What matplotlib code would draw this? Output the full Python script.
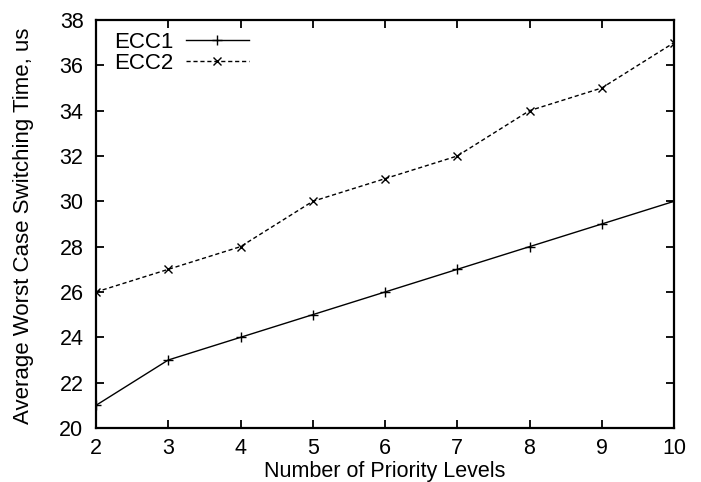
import matplotlib
matplotlib.use("Agg")
import matplotlib.pyplot as plt

# priority levels and switching times (us)
levels = [2, 3, 4, 5, 6, 7, 8, 9, 10]
ecc1 = [21, 23, 24, 25, 26, 27, 28, 29, 30]
ecc2 = [26, 27, 28, 30, 31, 32, 34, 35, 37]

plt.rcParams['font.family'] = ['Liberation Sans', 'DejaVu Sans']
plt.rcParams['font.size'] = 15.5

fig = plt.figure(figsize=(7.01, 4.82), dpi=100)
# plot box in pixels: x 96..674, y 20..428
ax = fig.add_axes([96 / 701, 1 - 428 / 482, 578 / 701, 408 / 482])

ax.plot(levels, ecc1, color='black', linewidth=1, marker='+', markersize=7,
        markeredgewidth=1, label='ECC1')
ax.plot(levels, ecc2, color='black', linewidth=1, linestyle=(0, (3, 2)),
        marker='x', markersize=6, markeredgewidth=1, label='ECC2')

ax.set_xlim(2, 10)
ax.set_ylim(20, 38)
ax.set_xticks(levels)
ax.set_yticks(range(20, 39, 2))
ax.tick_params(direction='in', top=True, right=True, length=6, width=1.3,
               labelsize=15.5)
ax.tick_params(axis='x', pad=7)
ax.tick_params(axis='y', pad=9)
for s in ax.spines.values():
    s.set_linewidth(1.6)

ax.set_xlabel('Number of Priority Levels', fontsize=15.5, labelpad=2)
ax.set_ylabel('Average Worst Case Switching Time, us', fontsize=16)
ax.yaxis.set_label_coords(-0.108, 0.495)

ax.legend(loc='upper left', bbox_to_anchor=(11 / 578, 1 - 5 / 408),
          frameon=False, markerfirst=False, fontsize=16, handlelength=2.8,
          borderaxespad=0.0, borderpad=0.3, labelspacing=0.0,
          handletextpad=0.6)

fig.savefig('out.png', dpi=100)
